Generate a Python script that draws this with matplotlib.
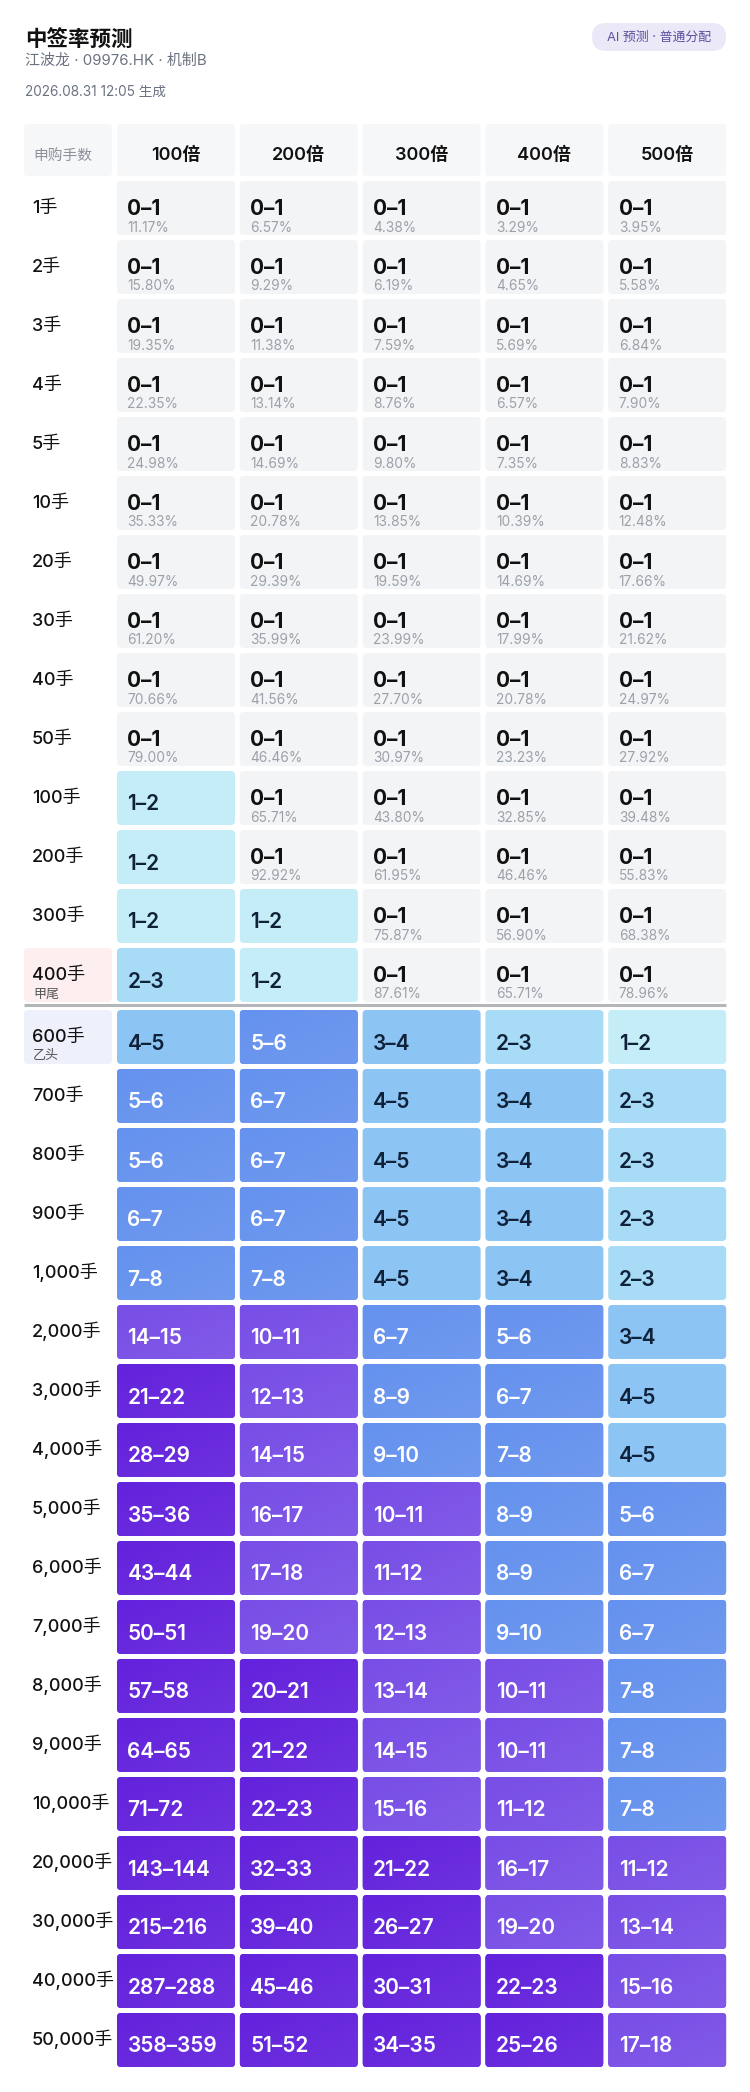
import numpy as np
import matplotlib.pyplot as plt
from matplotlib.patches import FancyBboxPatch
from matplotlib.colors import to_rgb

plt.rcParams['font.family'] = ['Inter', 'Noto Sans CJK SC', 'DejaVu Sans']

title = "中签率预测"
subtitle = "江波龙 · 09976.HK · 机制B"
stamp = "2026.08.31 12:05 生成"
badge = "AI 预测 · 普通分配"

multiples = ["100倍", "200倍", "300倍", "400倍", "500倍"]

lots = ["1手", "2手", "3手", "4手", "5手", "10手", "20手", "30手", "40手", "50手",
        "100手", "200手", "300手", "400手",
        "600手", "700手", "800手", "900手", "1,000手",
        "2,000手", "3,000手", "4,000手", "5,000手", "6,000手", "7,000手",
        "8,000手", "9,000手", "10,000手",
        "20,000手", "30,000手", "40,000手", "50,000手"]

notes = {"400手": "甲尾", "600手": "乙头"}
note_bg = {"400手": "#fdeef0", "600手": "#eef0fb"}

# lower end of the predicted lot range (range is low..low+1)
low = [
    [0, 0, 0, 0, 0],
    [0, 0, 0, 0, 0],
    [0, 0, 0, 0, 0],
    [0, 0, 0, 0, 0],
    [0, 0, 0, 0, 0],
    [0, 0, 0, 0, 0],
    [0, 0, 0, 0, 0],
    [0, 0, 0, 0, 0],
    [0, 0, 0, 0, 0],
    [0, 0, 0, 0, 0],
    [1, 0, 0, 0, 0],
    [1, 0, 0, 0, 0],
    [1, 1, 0, 0, 0],
    [2, 1, 0, 0, 0],
    [4, 5, 3, 2, 1],
    [5, 6, 4, 3, 2],
    [5, 6, 4, 3, 2],
    [6, 6, 4, 3, 2],
    [7, 7, 4, 3, 2],
    [14, 10, 6, 5, 3],
    [21, 12, 8, 6, 4],
    [28, 14, 9, 7, 4],
    [35, 16, 10, 8, 5],
    [43, 17, 11, 8, 6],
    [50, 19, 12, 9, 6],
    [57, 20, 13, 10, 7],
    [64, 21, 14, 10, 7],
    [71, 22, 15, 11, 7],
    [143, 32, 21, 16, 11],
    [215, 39, 26, 19, 13],
    [287, 45, 30, 22, 15],
    [358, 51, 34, 25, 17],
]

# hit rate (%) shown under the "0–1" cells
rates = [
    [11.17, 6.57, 4.38, 3.29, 3.95],
    [15.80, 9.29, 6.19, 4.65, 5.58],
    [19.35, 11.38, 7.59, 5.69, 6.84],
    [22.35, 13.14, 8.76, 6.57, 7.90],
    [24.98, 14.69, 9.80, 7.35, 8.83],
    [35.33, 20.78, 13.85, 10.39, 12.48],
    [49.97, 29.39, 19.59, 14.69, 17.66],
    [61.20, 35.99, 23.99, 17.99, 21.62],
    [70.66, 41.56, 27.70, 20.78, 24.97],
    [79.00, 46.46, 30.97, 23.23, 27.92],
    [None, 65.71, 43.80, 32.85, 39.48],
    [None, 92.92, 61.95, 46.46, 55.83],
    [None, None, 75.87, 56.90, 68.38],
    [None, None, 87.61, 65.71, 78.96],
]


def cell_color(v):
    if v == 0:
        return "#f3f4f6"
    if v == 1:
        return "#c5edf7"
    if v == 2:
        return "#a8dbf6"
    if v <= 4:
        return "#8cc4f3"
    if v <= 9:
        return "#6592ee"
    if v <= 19:
        return "#784ee6"
    return "#6322dc"


W, H = 750, 2092
fig = plt.figure(figsize=(W / 100, H / 100), dpi=100)
ax = fig.add_axes([0, 0, 1, 1])
ax.axis('off')


def box(x, y, w, h, color, r=5, grad=False, z=1):
    p = FancyBboxPatch((x, y), w, h, boxstyle=f"round,pad=0,rounding_size={r}",
                       fc=color, ec='none', zorder=z)
    ax.add_patch(p)
    if grad:
        c1 = np.array(to_rgb(color))
        c2 = c1 + (1 - c1) * 0.07
        t = np.linspace(0, 1, 24)
        tt = ((t[None, :] + t[:, None]) / 2)[..., None]
        img = c1 * (1 - tt) + c2 * tt
        im = ax.imshow(img, extent=(x, x + w, y + h, y), interpolation='bilinear',
                       zorder=z + 0.1)
        im.set_clip_path(p)
    return p


# header texts
ax.text(25, 40, title, fontsize=15.5, fontweight='bold', color='#111111',
        va='center', ha='left', family=['Noto Sans CJK SC'])
ax.text(25, 61, subtitle, fontsize=10.8, color='#6b7280', va='center', ha='left')
ax.text(25, 92, stamp, fontsize=9.8, color='#6b7280', va='center', ha='left')
box(592, 23, 134, 28, '#ebe8f8', r=14)
ax.text(659, 37.5, badge, fontsize=9.3, color='#5a4e9c', va='center', ha='center')

col_x0, col_pitch, col_w = 117, 122.8, 118
lab_x0, lab_w = 24, 88
head_top, head_h = 124, 52
row_top0, row_pitch, row_h, split = 181, 59, 54, 3

# column header
box(lab_x0, head_top, lab_w, head_h, '#f6f7f9', r=4)
ax.text(33, head_top + 35.5, "申购手数", fontsize=10.6, color='#8b9099', va='baseline', ha='left')
for j, m in enumerate(multiples):
    x = col_x0 + j * col_pitch
    box(x, head_top, col_w, head_h, '#f6f7f9', r=4)
    ax.text(x + col_w / 2, head_top + 36.5, m, fontsize=13, fontweight='semibold',
            color='#111111', va='baseline', ha='center')

for i, lab in enumerate(lots):
    top = row_top0 + i * row_pitch + (split if i > 13 else 0)
    if lab in note_bg:
        box(lab_x0, top, lab_w, row_h, note_bg[lab], r=4)
    ax.text(32, top + 32, lab, fontsize=13, fontweight='medium', color='#111111',
            va='baseline', ha='left', zorder=3)
    if lab in notes:
        ax.text(33, top + 49.5, notes[lab], fontsize=9.4, color='#555555',
                va='baseline', ha='left', zorder=3)
    for j in range(len(multiples)):
        v = low[i][j]
        x = col_x0 + j * col_pitch
        rng = f"{v}–{v + 1}"
        box(x, top, col_w, row_h, cell_color(v), r=4, grad=v >= 5)
        if v == 0:
            ax.text(x + 10.5, top + 34, rng, fontsize=15, fontweight='bold',
                    color='#111111', va='baseline', ha='left', zorder=3)
            ax.text(x + 10.5, top + 50.5, f"{rates[i][j]:.2f}%", fontsize=9.9,
                    color='#9ca1a9', va='baseline', ha='left', zorder=3)
        else:
            tc = '#ffffff' if v >= 5 else '#10213a'
            ax.text(x + 10.5, top + 39.5, rng, fontsize=15, fontweight='semibold',
                    color=tc, va='baseline', ha='left', zorder=3)

# divider between 甲组 and 乙组
sep_y = row_top0 + 14 * row_pitch - 2
ax.plot([lab_x0, col_x0 + 4 * col_pitch + col_w], [sep_y, sep_y], color='#b5b6ba',
        lw=2.2, solid_capstyle='butt', zorder=2)

ax.set_aspect('auto')
ax.set_xlim(0, W)
ax.set_ylim(H, 0)
fig.savefig('out.png', dpi=100, facecolor='white')
